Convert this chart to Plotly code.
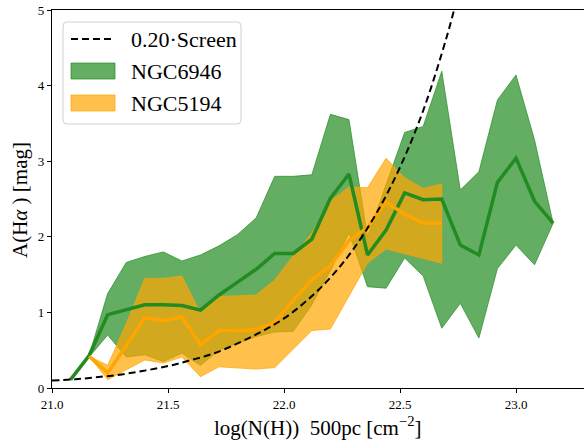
import plotly.graph_objects as go

# ---- data ----
x_green = [21.08, 21.16, 21.24, 21.32, 21.40, 21.48, 21.56, 21.64, 21.72, 21.80,
           21.88, 21.96, 22.04, 22.12, 22.20, 22.28, 22.36, 22.44, 22.52, 22.60,
           22.68, 22.76, 22.84, 22.92, 23.00, 23.08, 23.16]
green_med = [0.11, 0.43, 0.97, 1.04, 1.10, 1.10, 1.09, 1.03, 1.23, 1.40,
             1.57, 1.78, 1.78, 1.97, 2.51, 2.83, 1.76, 2.09, 2.58, 2.49,
             2.50, 1.89, 1.76, 2.72, 3.04, 2.47, 2.18]
green_hi = [0.11, 0.43, 1.25, 1.66, 1.74, 1.80, 1.68, 1.76, 1.88, 2.03,
            2.25, 2.80, 2.80, 2.82, 3.62, 3.55, 2.00, 2.70, 3.38, 3.46,
            4.19, 2.62, 2.86, 3.81, 4.14, 3.28, 2.18]
green_lo = [0.11, 0.41, 0.70, 0.41, 0.44, 0.35, 0.46, 0.30, 0.50, 0.59,
            0.68, 0.74, 0.75, 1.10, 1.55, 2.05, 1.34, 1.32, 1.72, 1.48,
            0.79, 1.12, 0.66, 1.58, 1.89, 1.63, 2.18]

x_orange = [21.16, 21.24, 21.32, 21.40, 21.48, 21.56, 21.64, 21.72, 21.80, 21.88,
            21.96, 22.04, 22.12, 22.20, 22.28, 22.36, 22.44, 22.52, 22.60, 22.68]
orange_med = [0.42, 0.20, 0.56, 0.93, 0.89, 0.94, 0.57, 0.76, 0.76, 0.77,
              0.87, 1.16, 1.43, 1.62, 1.95, 2.12, 2.46, 2.30, 2.18, 2.18]
orange_hi = [0.42, 0.30, 0.85, 1.45, 1.45, 1.48, 0.99, 1.21, 1.22, 1.23,
             1.43, 1.75, 2.05, 2.47, 2.66, 2.65, 3.04, 2.78, 2.64, 2.70]
orange_lo = [0.42, 0.11, 0.24, 0.37, 0.33, 0.41, 0.15, 0.28, 0.26, 0.25,
             0.27, 0.52, 0.76, 0.78, 1.22, 1.65, 1.84, 1.77, 1.71, 1.65]

x_screen = [21.00, 21.10, 21.20, 21.30, 21.40, 21.50, 21.60, 21.70, 21.80, 21.90,
            22.00, 22.10, 22.20, 22.30, 22.40, 22.50, 22.60, 22.70, 22.75]
y_screen = [0.10, 0.115, 0.145, 0.18, 0.23, 0.29, 0.37, 0.46, 0.59, 0.74,
            0.92, 1.16, 1.46, 1.84, 2.32, 2.92, 3.67, 4.63, 5.20]

x_ticks = [21.0, 21.5, 22.0, 22.5, 23.0]
y_ticks = [0, 1, 2, 3, 4, 5]
legend_labels = ["0.20·Screen", "NGC6946", "NGC5194"]

GREEN_FILL = "rgba(34,139,34,0.7)"
GREEN_LINE = "#228b22"
ORANGE_FILL = "rgba(255,165,0,0.7)"
ORANGE_LINE = "#ffa500"
FONT = "Liberation Serif"

fig = go.Figure()

fig.add_trace(go.Scatter(
    x=x_green + x_green[::-1], y=green_hi + green_lo[::-1],
    fill="toself", fillcolor=GREEN_FILL, mode="lines",
    line=dict(color=GREEN_FILL, width=1), hoverinfo="skip", showlegend=False))
fig.add_trace(go.Scatter(
    x=x_orange + x_orange[::-1], y=orange_hi + orange_lo[::-1],
    fill="toself", fillcolor=ORANGE_FILL, mode="lines",
    line=dict(color=ORANGE_FILL, width=1), hoverinfo="skip", showlegend=False))
fig.add_trace(go.Scatter(x=x_green, y=green_med, mode="lines",
                         line=dict(color=GREEN_LINE, width=3.5), showlegend=False))
fig.add_trace(go.Scatter(x=x_orange, y=orange_med, mode="lines",
                         line=dict(color=ORANGE_LINE, width=3.5), showlegend=False))
fig.add_trace(go.Scatter(x=x_screen, y=y_screen, mode="lines",
                         line=dict(color="black", width=2, dash="7px,4px",
                                   shape="spline", smoothing=1),
                         showlegend=False))

# ---- layout geometry (pixels) ----
W, H = 584, 441
L, R, T, B = 52, 0, 10, 53
pw, ph = W - L - R, H - T - B


def px(xp):
    return (xp - L) / pw


def py(yp):
    return (H - B - yp) / ph


shapes = []
# legend box with rounded corners
bx0, bx1, by0, by1 = px(63), px(241), py(22), py(124)
rx, ry = 4 / pw, 4 / ph
path = (f"M{bx0+rx},{by0} L{bx1-rx},{by0} Q{bx1},{by0} {bx1},{by0-ry} "
        f"L{bx1},{by1+ry} Q{bx1},{by1} {bx1-rx},{by1} L{bx0+rx},{by1} "
        f"Q{bx0},{by1} {bx0},{by1+ry} L{bx0},{by0-ry} Q{bx0},{by0} {bx0+rx},{by0} Z")
shapes.append(dict(type="path", xref="paper", yref="paper", path=path,
                   fillcolor="rgba(255,255,255,0.85)", line=dict(color="#d0d0d0", width=1),
                   layer="above"))
shapes.append(dict(type="line", xref="paper", yref="paper",
                   x0=px(71), x1=px(114), y0=py(39), y1=py(39),
                   line=dict(color="black", width=2, dash="7px,4px"), layer="above"))
shapes.append(dict(type="rect", xref="paper", yref="paper",
                   x0=px(71), x1=px(115), y0=py(63), y1=py(79),
                   fillcolor=GREEN_FILL, line=dict(color=GREEN_FILL, width=1), layer="above"))
shapes.append(dict(type="rect", xref="paper", yref="paper",
                   x0=px(71), x1=px(115), y0=py(95), y1=py(111),
                   fillcolor=ORANGE_FILL, line=dict(color=ORANGE_FILL, width=1), layer="above"))

annotations = []
for lab, yc in zip(legend_labels, [39, 71, 103]):
    annotations.append(dict(text=lab, xref="paper", yref="paper", x=px(129), y=py(yc),
                            xanchor="left", yanchor="middle", showarrow=False,
                            font=dict(family=FONT, size=22, color="black")))
annotations.append(dict(text="log(N(H))  500pc [cm<sup>−2</sup>]", xref="paper", yref="paper",
                        x=px(318), y=py(426), xanchor="center", yanchor="middle",
                        showarrow=False, font=dict(family=FONT, size=21, color="black")))
annotations.append(dict(text="A(H<i>α</i> ) [mag]", xref="paper", yref="paper",
                        x=px(20), y=py(200), xanchor="center", yanchor="middle",
                        textangle=-90, showarrow=False,
                        font=dict(family=FONT, size=21, color="black")))

fig.update_layout(
    width=W, height=H,
    margin=dict(l=L, r=R, t=T, b=B, pad=0),
    paper_bgcolor="white", plot_bgcolor="white",
    showlegend=False,
    shapes=shapes, annotations=annotations,
    xaxis=dict(range=[21.0, 21.0 + pw / 232.0], tickvals=x_ticks,
               ticktext=[f"{v:.1f}" for v in x_ticks],
               showgrid=False, zeroline=False, showline=True, linecolor="black",
               linewidth=1.2, mirror=True, ticks="outside", ticklen=4, tickwidth=1,
               tickcolor="black", tickfont=dict(family=FONT, size=13, color="black")),
    yaxis=dict(range=[0, 5], tickvals=y_ticks, showgrid=False, zeroline=False,
               showline=True, linecolor="black", linewidth=1.2, mirror=False,
               ticks="outside", ticklen=4, tickwidth=1, tickcolor="black",
               tickfont=dict(family=FONT, size=13, color="black")),
)

fig.write_html(
    "out.html",
    config={"displayModeBar": False},
    post_script="document.body.style.margin='0px';document.body.style.overflow='hidden';",
)
